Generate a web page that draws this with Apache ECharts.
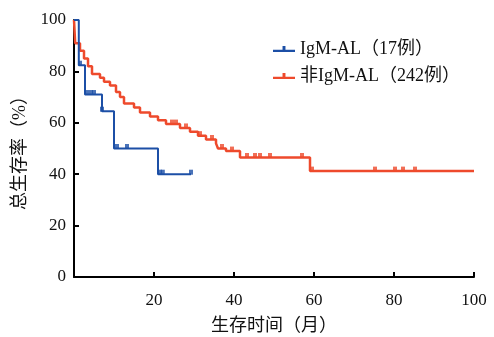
<!DOCTYPE html>
<html><head><meta charset="utf-8">
<script src="https://cdn.jsdelivr.net/npm/echarts@6/dist/echarts.min.js"></script>
<style>html,body{margin:0;padding:0;background:#fff}#c{width:494px;height:337px}</style>
</head><body><div id="c"></div>
<script>
// Kaplan-Meier step data: time (months) where survival drops to value
var seriesNames = ['IgM-AL（17例）', '非IgM-AL（242例）'];
var blueTimes = [0, 1.2, 2.75, 7, 10, 21, 29.25];
var blueSurv  = [100, 82.4, 71, 64.5, 50, 40, 40];
var blueCensor = [1.5, 3.25, 4.25, 5.0, 7.0, 10.75, 13.25, 21.5, 22.2, 29.25];

var redTimes = [0, 0.3, 1.5, 2.5, 3.5, 4.5, 6.5, 7.5, 9, 10.5, 11.5, 12.5, 15, 16.5, 19, 21, 23, 26.5, 29, 31, 33, 35.5, 36, 38, 41.5, 59, 100];
var redSurv  = [100, 91, 88, 85, 82, 79, 77.5, 76, 74.5, 72, 70, 67.5, 66, 64, 62.5, 61, 59.5, 58, 56.5, 55, 53.5, 52, 50, 49, 46.5, 41.2, 41.2];
var redCensor = [24.5, 25.5, 28, 31.5, 34.5, 37, 39.5, 43.25, 45.25, 46.5, 49, 57, 59.5, 75.25, 80.25, 82.25, 85.25];

var xTicks = [0, 20, 40, 60, 80, 100];
var yTicks = [0, 20, 40, 60, 80, 100];

function stepLine(t, s) {
  var pts = [[t[0], s[0]]];
  for (var i = 1; i < t.length; i++) {
    pts.push([t[i], s[i - 1]]);
    pts.push([t[i], s[i]]);
  }
  return pts;
}
function lookup(t, s, x) {
  var v = s[0];
  for (var i = 0; i < t.length; i++) { if (t[i] <= x) v = s[i]; }
  return v;
}
function censorPts(t, s, c) { return c.map(function (x) { return [x, lookup(t, s, x)]; }); }

var BLUE = '#1c4fa6', RED = '#ee4a2c';
var FONT = '"Liberation Serif", "Noto Sans CJK SC", serif';
var legendIcon = 'path://M0,10 L30,10 L30,13 L0,13 Z M13,5 L17,5 L17,10 L13,10 Z';
var censorSym = 'path://M0,0 L4,0 L4,5 L0,5 Z';

var chart = echarts.init(document.getElementById('c'), null, {renderer: 'canvas'});
chart.setOption({
  animation: false,
  grid: {left: 74, right: 20, top: 20, bottom: 60, containLabel: false, outerBoundsMode: 'none'},
  legend: {
    orient: 'vertical', left: 268, top: 35, itemGap: 9,
    itemWidth: 22, itemHeight: 8,
    textStyle: {fontFamily: FONT, fontSize: 18, color: '#111'},
    data: [{name: seriesNames[0], icon: legendIcon}, {name: seriesNames[1], icon: legendIcon}]
  },
  xAxis: {
    type: 'value', min: xTicks[0], max: xTicks[xTicks.length - 1], interval: 20,
    name: '生存时间（月）', nameLocation: 'middle', nameGap: 40,
    nameTextStyle: {fontFamily: FONT, fontSize: 18, color: '#111'},
    axisLine: {lineStyle: {color: '#000', width: 2}},
    axisTick: {inside: true, length: 5, lineStyle: {color: '#000', width: 2}},
    axisLabel: {fontFamily: FONT, fontSize: 17, color: '#111', margin: 15,
      formatter: function (v) { return v === 0 ? '' : String(v); }},
    splitLine: {show: false}
  },
  yAxis: {
    type: 'value', min: yTicks[0], max: yTicks[yTicks.length - 1], interval: 20,
    name: '总生存率（%）', nameLocation: 'middle', nameGap: 45, nameRotate: 90,
    nameTextStyle: {fontFamily: FONT, fontSize: 18, color: '#111'},
    axisLine: {lineStyle: {color: '#000', width: 2}},
    axisTick: {inside: true, length: 5, lineStyle: {color: '#000', width: 2}},
    axisLabel: {fontFamily: FONT, fontSize: 17, color: '#111', margin: 8},
    splitLine: {show: false}
  },
  series: [
    {name: seriesNames[1], type: 'line', data: stepLine(redTimes, redSurv), showSymbol: false,
      lineStyle: {color: RED, width: 2.5}, itemStyle: {color: RED}, z: 2},
    {name: seriesNames[1], type: 'scatter', data: censorPts(redTimes, redSurv, redCensor),
      symbol: censorSym, symbolSize: [4, 5], symbolOffset: [0, -2], itemStyle: {color: RED}, z: 2},
    {name: seriesNames[0], type: 'line', data: stepLine(blueTimes, blueSurv), showSymbol: false,
      lineStyle: {color: BLUE, width: 2}, itemStyle: {color: BLUE}, z: 3},
    {name: seriesNames[0], type: 'scatter', data: censorPts(blueTimes, blueSurv, blueCensor),
      symbol: censorSym, symbolSize: [4, 5], symbolOffset: [0, -2], itemStyle: {color: BLUE}, z: 3}
  ]
});
</script></body></html>
